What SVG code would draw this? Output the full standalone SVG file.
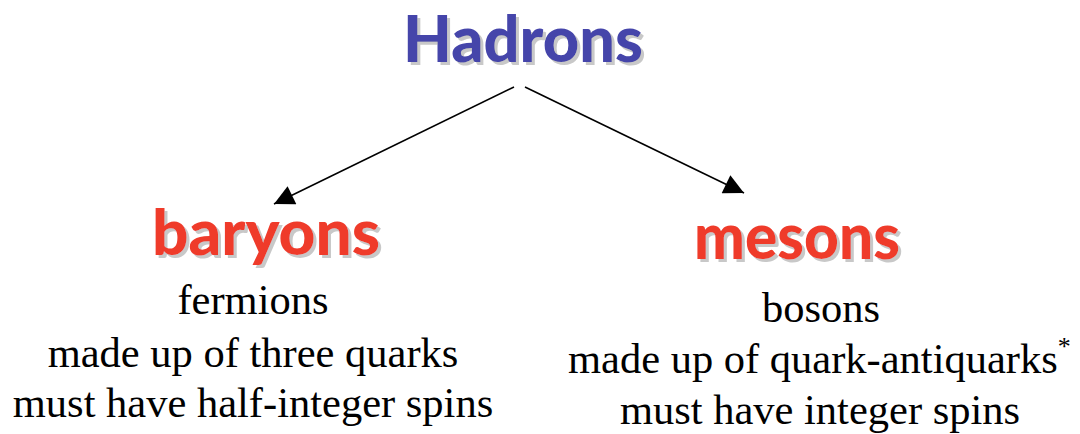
<svg xmlns="http://www.w3.org/2000/svg" width="1080" height="434" viewBox="0 0 1080 434">
<defs>
<marker id="arr" viewBox="0 0 10 10" refX="10" refY="5" markerWidth="22" markerHeight="20" markerUnits="userSpaceOnUse" orient="auto">
<path d="M0,0 L10,5 L0,10 z" fill="#000"/>
</marker>
<filter id="shadow" x="-5%" y="-10%" width="115%" height="130%">
<feOffset in="SourceAlpha" dx="3" dy="3" result="off"/>
<feFlood flood-color="#c8c8c8"/>
<feComposite in2="off" operator="in" result="sh"/>
<feMerge><feMergeNode in="sh"/><feMergeNode in="SourceGraphic"/></feMerge>
</filter>
</defs>
<style>
.title{font-family:"Comic Sans MS","Lato","DejaVu Sans",sans-serif;font-weight:900;filter:url(#shadow);}
.blue{fill:#4444aa;}
.red{fill:#ef3a2b;}
.body{font-family:"Liberation Serif","Times New Roman",serif;font-size:42.5px;fill:#000;}
.conn{stroke:#000;stroke-width:1.6;fill:none;}
</style>
<rect width="1080" height="434" fill="#fff"/>
<g id="hadrons">
<text class="title blue" x="523" y="62" font-size="64" text-anchor="middle" textLength="240" lengthAdjust="spacingAndGlyphs">Hadrons</text>
</g>
<g id="baryons">
<text class="title red" x="266" y="255" font-size="62" text-anchor="middle" textLength="228" lengthAdjust="spacingAndGlyphs">baryons</text>
<text class="body" x="253" y="314" text-anchor="middle">fermions</text>
<text class="body" x="253" y="367" text-anchor="middle">made up of three quarks</text>
<text class="body" x="253" y="417" text-anchor="middle">must have half-integer spins</text>
</g>
<g id="mesons">
<text class="title red" x="797" y="259" font-size="62" text-anchor="middle" textLength="206" lengthAdjust="spacingAndGlyphs">mesons</text>
<text class="body" x="821" y="322" text-anchor="middle">bosons</text>
<text class="body" x="568" y="373">made up of quark-antiquarks<tspan font-size="26" dy="-18">*</tspan></text>
<text class="body" x="820" y="424" text-anchor="middle">must have integer spins</text>
</g>
<g id="connectors">
<line class="conn" x1="514" y1="87" x2="274" y2="204" marker-end="url(#arr)"/>
<line class="conn" x1="525" y1="87" x2="744" y2="193" marker-end="url(#arr)"/>
</g>
</svg>
